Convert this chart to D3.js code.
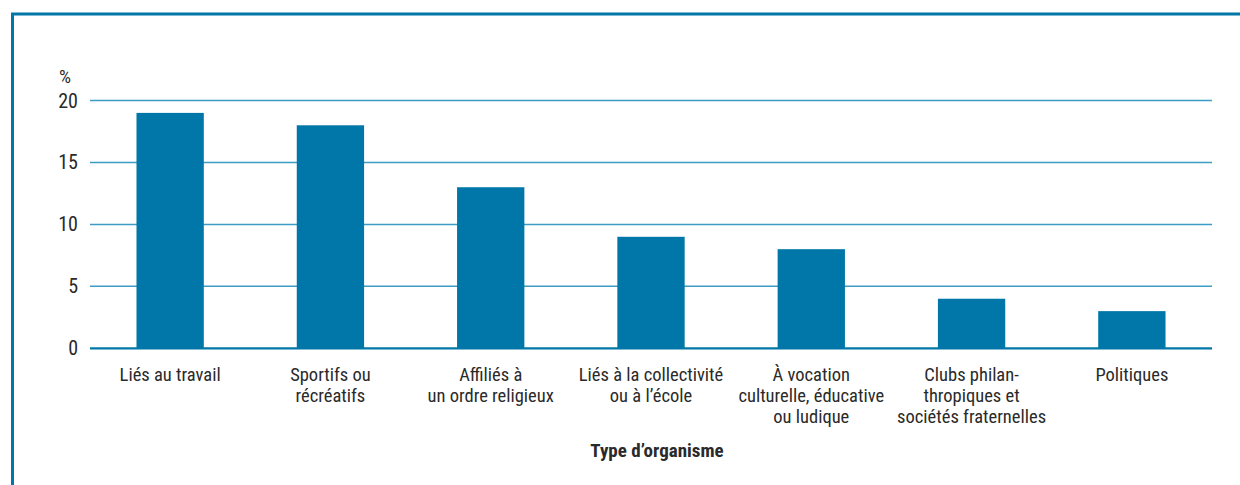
<!DOCTYPE html>
<html><head><meta charset="utf-8">
<script src="https://cdn.jsdelivr.net/npm/d3@7"></script>
<style>
html,body{margin:0;padding:0;background:#fff;}
text{font-family:"Liberation Sans Narrow","Roboto Condensed","Arial Narrow","Liberation Sans",sans-serif;fill:#2a2a2a;}
</style></head>
<body><svg id="c" width="1240" height="485"></svg>
<script>
const categories = [
  ["Liés au travail"],
  ["Sportifs ou","récréatifs"],
  ["Affiliés à","un ordre religieux"],
  ["Liés à la collectivité","ou à l’école"],
  ["À vocation","culturelle, éducative","ou ludique"],
  ["Clubs philan-","thropiques et","sociétés fraternelles"],
  ["Politiques"]
];
const values = [19, 18, 13, 9, 8, 4, 3];
const yTicks = [0, 5, 10, 15, 20];
const yUnit = "%";
const xTitle = "Type d’organisme";

const svg = d3.select("#c");
const blue = "#0077a8";
svg.append("path").attr("d","M12.5,485 V14 H1240").attr("fill","none").attr("stroke",blue).attr("stroke-width",3);

const x = d3.scaleBand().domain(d3.range(values.length)).range([90,1212]).paddingInner(0.58).paddingOuter(0.29);
const y = d3.scaleLinear().domain([0,20]).range([348.3,100.5]);

svg.append("g").selectAll("line").data(yTicks.filter(d=>d>0)).join("line")
  .attr("x1",90).attr("x2",1212).attr("y1",d=>y(d)).attr("y2",d=>y(d))
  .attr("stroke","#3d9cc4").attr("stroke-width",1.5);
svg.append("g").selectAll("text").data(yTicks).join("text")
  .attr("x",78).attr("y",d=>y(d)+7).attr("text-anchor","end").attr("font-size",20).text(d=>d);
svg.append("text").attr("x",59).attr("y",83).attr("font-size",19).text(yUnit);

svg.append("g").selectAll("rect").data(values).join("rect")
  .attr("x",(d,i)=>x(i)).attr("width",x.bandwidth())
  .attr("y",d=>y(d)).attr("height",d=>y(0)-y(d)).attr("fill",blue);

svg.append("line").attr("x1",90).attr("x2",1212).attr("y1",y(0)).attr("y2",y(0)).attr("stroke",blue).attr("stroke-width",2.2);

const cg = svg.append("g");
categories.forEach((lines,i)=>{
  const cx = x(i)+x.bandwidth()/2;
  const t = cg.append("text").attr("x",cx).attr("y",381).attr("text-anchor","middle").attr("font-size",18.5);
  lines.forEach((l,j)=>t.append("tspan").attr("x",cx).attr("dy",j?21:0).text(l));
});
svg.append("text").attr("x",657).attr("y",457).attr("text-anchor","middle").attr("font-size",19).attr("font-weight","bold").text(xTitle);
</script></body></html>
